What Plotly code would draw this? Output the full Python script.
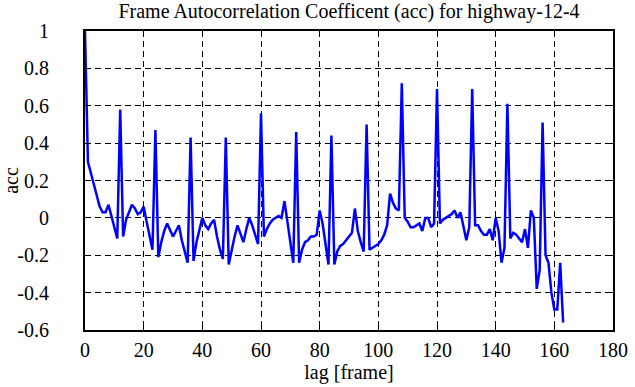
import plotly.graph_objects as go

lags = list(range(0, 164))
acc = [
    1.0, 0.30, 0.24, 0.18, 0.12, 0.06, 0.03, 0.03, 0.07, 0.01,      # 0-9
    -0.05, -0.11, 0.58, -0.10, -0.01, 0.03, 0.07, 0.05, 0.02, 0.03,  # 10-19
    0.06, -0.02, -0.09, -0.17, 0.47, -0.21, -0.13, -0.07, -0.03, -0.07,  # 20-29
    -0.10, -0.07, -0.04, -0.12, -0.18, -0.24, 0.43, -0.23, -0.13, -0.06,  # 30-39
    0.00, -0.04, -0.06, -0.03, -0.01, -0.10, -0.17, -0.22, 0.43, -0.25,  # 40-49
    -0.17, -0.10, -0.04, -0.09, -0.13, -0.06, 0.00, -0.04, -0.09, -0.14,  # 50-59
    0.56, -0.10, -0.06, -0.03, -0.01, 0.00, 0.01, 0.00, 0.09, -0.02,  # 60-69
    -0.13, -0.24, 0.46, -0.24, -0.17, -0.13, -0.12, -0.10, -0.10, -0.09,  # 70-79
    0.04, -0.03, -0.14, -0.25, 0.44, -0.25, -0.18, -0.15, -0.14, -0.12,  # 80-89
    -0.10, -0.08, 0.05, -0.07, -0.13, -0.18, 0.50, -0.17, -0.16, -0.15,  # 90-99
    -0.14, -0.12, -0.09, -0.04, 0.13, 0.08, 0.05, 0.04, 0.72, 0.00,  # 100-109
    -0.02, -0.05, -0.05, -0.04, -0.03, -0.07, 0.00, 0.00, -0.05, -0.03,  # 110-119
    0.69, -0.03, -0.01, 0.00, 0.01, 0.02, 0.04, 0.00, 0.03, -0.05,  # 120-129
    -0.12, -0.05, 0.69, -0.04, -0.04, -0.07, -0.09, -0.09, -0.06, -0.12,  # 130-139
    0.00, -0.07, -0.24, -0.16, 0.61, -0.11, -0.08, -0.09, -0.11, -0.13,  # 140-149
    -0.06, -0.16, 0.04, 0.00, -0.38, -0.28, 0.51, -0.20, -0.24, -0.40,  # 150-159
    -0.49, -0.49, -0.24, -0.56,  # 160-163
]

x_ticks = [0, 20, 40, 60, 80, 100, 120, 140, 160, 180]
y_ticks = [-0.6, -0.4, -0.2, 0, 0.2, 0.4, 0.6, 0.8, 1]
y_tick_text = ["-0.6", "-0.4", "-0.2", "0", "0.2", "0.4", "0.6", "0.8", "1"]

FONT = "Liberation Serif, Times New Roman, serif"
FS = 20

fig = go.Figure()
fig.add_trace(go.Scatter(
    x=lags, y=acc, mode="lines",
    line=dict(color="#0000ff", width=2.5),
    showlegend=False,
))

axis_common = dict(
    showline=True, linecolor="black", linewidth=2, mirror="ticks",
    ticks="inside", ticklen=6, tickcolor="black", tickwidth=1,
    showgrid=True, gridcolor="black", gridwidth=1, griddash="6px,4px",
    zeroline=False, automargin=False,
    tickfont=dict(family=FONT, size=FS, color="black"),
)

fig.update_layout(
    width=635, height=387,
    margin=dict(l=85, r=22, t=31, b=57),
    paper_bgcolor="white", plot_bgcolor="white",
    font=dict(family=FONT, size=FS, color="black"),
    title=dict(
        text="Frame Autocorrelation Coefficent (acc) for highway-12-4",
        x=0.5, xref="paper", xanchor="center",
        y=1 - 11 / 387, yref="container", yanchor="middle",
        font=dict(family=FONT, size=FS, color="black"),
    ),
    xaxis=dict(
        range=[0, 180], tickvals=x_ticks,
        title=dict(text="lag [frame]", standoff=4,
                   font=dict(family=FONT, size=FS, color="black")),
        ticklabelstandoff=1,
        **axis_common,
    ),
    yaxis=dict(
        range=[-0.6, 1], tickvals=y_ticks, ticktext=y_tick_text,
        title=dict(text="acc", standoff=0,
                   font=dict(family=FONT, size=FS, color="black")),
        ticklabelstandoff=30,
        **axis_common,
    ),
)

fig.write_html(
    "out.html",
    config={"displayModeBar": False},
    post_script="document.body.style.margin='0';document.body.style.overflow='hidden';",
)
